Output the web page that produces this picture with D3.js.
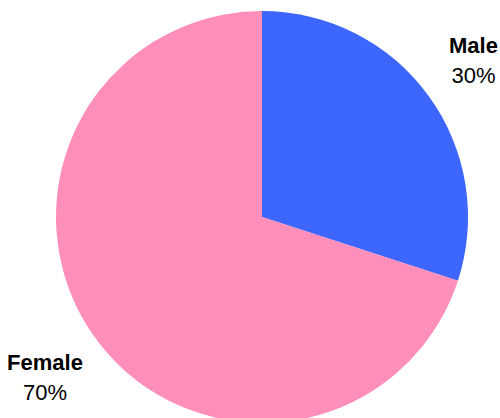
<!DOCTYPE html>
<html><head><meta charset="utf-8">
<script src="https://cdn.jsdelivr.net/npm/d3@7"></script>
<style>body{margin:0;background:#fff}svg{display:block}</style>
</head><body>
<script>
const categories = ["Male", "Female"];
const values = [30, 70];
const colors = ["#3d66ff", "#ff8fba"];

const W = 500, H = 418, cx = 262, cy = 217, R = 206;
const svg = d3.select("body").append("svg").attr("width", W).attr("height", H);
const data = categories.map((c, i) => ({ name: c, value: values[i], color: colors[i] }));
const pie = d3.pie().value(d => d.value).sort(null);
const arc = d3.arc().innerRadius(0).outerRadius(R);
const g = svg.append("g").attr("transform", `translate(${cx},${cy})`);
const arcs = pie(data);
g.selectAll("path").data(arcs).join("path").attr("d", arc).attr("fill", d => d.data.color);

const labelPos = [{ x: 473.5, y: 53 }, { x: 45, y: 370 }];
const total = d3.sum(values);
arcs.forEach((a, i) => {
  const t = svg.append("text").attr("text-anchor", "middle")
    .attr("font-family", "'Liberation Sans', Arial, sans-serif").attr("font-size", 22);
  t.append("tspan").attr("x", labelPos[i].x).attr("y", labelPos[i].y).attr("font-weight", "bold").text(a.data.name);
  t.append("tspan").attr("x", labelPos[i].x).attr("y", labelPos[i].y + 30).text(d3.format(".0%")(a.data.value / total));
});
</script>
</body></html>
